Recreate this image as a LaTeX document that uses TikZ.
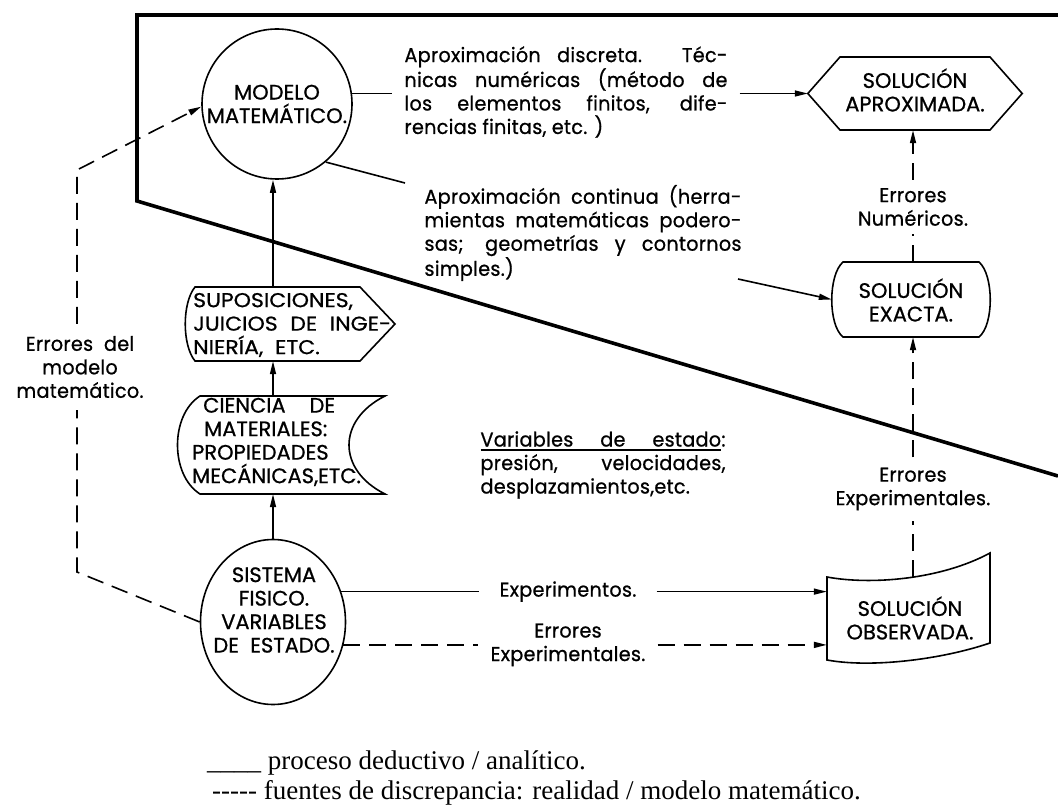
\documentclass[tikz,border=0pt]{standalone}
\usepackage{fontspec}
\setmainfont{Poppins}
\newfontfamily\cadcap{Poppins}[UprightFeatures={FakeBold=0.8}]
\newfontfamily\cadwide{Poppins}[UprightFeatures={FakeBold=0.8,FakeStretch=1.1}]
\newfontfamily\cadlow{Poppins}[UprightFeatures={FakeBold=0.8,LetterSpace=1.5,FakeStretch=0.96}]
\newfontfamily\legfont{Liberation Serif}
\usetikzlibrary{arrows.meta,shapes.geometric}
\newlength\colw
\begin{document}
\begin{tikzpicture}[x=1pt,y=-1pt,
  ln/.style={line width=1.6pt},
  frame/.style={line width=3.6pt, line join=miter},
  dsh/.style={line width=1.6pt, dash pattern=on 17pt off 9pt},
  arr/.style={-{Triangle[length=13pt,width=6pt]}},
  captxt/.style={font=\cadcap\fontsize{21}{23.5}\selectfont, inner sep=0pt, align=center},
  lowtxt/.style={font=\cadlow\fontsize{20}{23.5}\selectfont, inner sep=0pt},
  legtxt/.style={font=\legfont\fontsize{27}{30}\selectfont, anchor=base west, inner sep=0pt},
  boxnode/.style={inner sep=0pt, draw=none}]
\useasboundingbox (0,0) rectangle (1058,810);
\fill[white] (0,0) rectangle (1058,810);
% frame
\draw[frame] (1058,15) -- (137,15) -- (137,201) -- (1058,476);
% modelo
\node[circle, draw, ln, minimum size=150pt, inner sep=0pt] (modelo) at (277,104) {};
\node[captxt] (modelotxt) at (modelo) {MODELO\\MATEMÁTICO.};
% sistema
\node[ellipse, draw, ln, minimum width=145pt, minimum height=165pt, inner sep=0pt] (sis) at (273,622) {};
\node[captxt] (sistxt) at (274,610) {SISTEMA\\FISICO.\\VARIABLES\\DE\ \ ESTADO.};
% aproximada
\node[boxnode, minimum width=214pt, minimum height=73pt] (aprox) at (915,93.5) {};
\draw[ln] (aprox.west) -- (840,57) -- (990,57) -- (aprox.east) -- (990,130) -- (840,130) -- cycle;
\node[captxt] (aproxtxt) at (915,90) {SOLUCIÓN\\APROXIMADA.};
% exacta
\node[boxnode, minimum width=158pt, minimum height=75pt] (exacta) at (911,299.5) {};
\draw[ln] (843,262) -- (979,262) .. controls (994,275) and (994,325) .. (979,337) -- (843,337) .. controls (828,325) and (828,275) .. (843,262) -- cycle;
\node[captxt] (exactatxt) at (911,300) {SOLUCIÓN\\EXACTA.};
% observada
\node[boxnode, minimum width=163pt, minimum height=109pt] (obs) at (908.5,607.5) {};
\draw[ln] (827,577) .. controls (870,585) and (940,580) .. (990,553) -- (990,643) .. controls (940,660) and (870,668) .. (827,660) -- cycle;
\node[captxt] (obstxt) at (910,618) {SOLUCIÓN\\OBSERVADA.};
% suposiciones
\node[boxnode, minimum width=210pt, minimum height=74pt] (supo) at (290,324) {};
\draw[ln] (195,287) -- (360,287) -- (395,324) -- (360,361) -- (195,361) .. controls (182,345) and (182,303) .. (195,287) -- cycle;
\node[captxt, font=\cadwide\fontsize{20}{23.5}\selectfont, align=left, anchor=west] (supotxt) at (193,325) {SUPOSICIONES,\\\makebox[198pt][s]{JUICIOS DE INGE-}\\NIERÍA,\ \ ETC.};
% ciencia
\node[boxnode, minimum width=208pt, minimum height=98pt] (cien) at (281,445) {};
\draw[ln] (200,396) -- (385,396) .. controls (337,420) and (337,470) .. (385,494) -- (200,494) .. controls (170,475) and (170,415) .. (200,396) -- cycle;
\node[captxt, align=left, anchor=west] (cientxt) at (192,442) {\hspace*{11pt}\makebox[132pt][s]{CIENCIA DE}\\\hspace*{12pt}MATERIALES:\\PROPIEDADES\\MECÁNICAS,ETC.};
% vertical chain
\coordinate (col) at (273,0);
\draw[ln,arr] (col |- sis.north) -- (col |- cien.south);
\draw[ln,arr] (col |- cien.north) -- (col |- supo.south);
\draw[ln,arr] (col |- supo.north) -- (col |- modelo.south);
% paragraph 1
\node[lowtxt, align=left, inner xsep=12pt] (para1) at (566,92) {\makebox[323pt][s]{Aproximación discreta. Téc-}\\\makebox[323pt][s]{nicas numéricas (método de}\\\makebox[323pt][s]{los elementos finitos, dife-}\\rencias finitas, etc. )};
\draw[ln] (modelo.8) -- (modelo.8 -| para1.west);
\draw[ln,arr] (para1.east |- aprox.west) -- (aprox.west);
% paragraph 2
\node[lowtxt, align=left] (para2) at (583,233) {\makebox[317pt][s]{Aproximación continua (herra-}\\\makebox[317pt][s]{mientas matemáticas podero-}\\\makebox[317pt][s]{sas; geometrías y contornos}\\simples.)};
\coordinate (p2a) at (405,183);
\coordinate (p2b) at (738,279);
\draw[ln] (modelo.-50) -- (p2a);
\draw[ln,arr] (p2b) -- (exacta.west);
% variables
\node[lowtxt, align=left] (vars) at (603,465) {\settowidth\colw{:}\rlap{\rule[-4pt]{\dimexpr245pt-\colw\relax}{1.5pt}}\makebox[245pt][s]{Variables de estado:}\\\makebox[245pt][s]{presión, velocidades,}\\desplazamientos,etc.};
% errores del modelo
\node[lowtxt, align=center, inner ysep=12pt] (errmod) at (80,367) {Errores\ \ del\\modelo\\matemático.};
\coordinate (d1) at (77,572);
\coordinate (d2) at (77,170);
\draw[dsh] (sis.west) -- (d1) -- (d1 |- errmod.south);
\draw[dsh,arr] (d2 |- errmod.north) -- (d2) -- (modelo.182);
% errores numericos
\node[lowtxt, align=center, inner ysep=8pt] (numlbl) at (913,207) {Errores\\Numéricos.};
\draw[dsh] (exacta.north -| numlbl) -- (numlbl.south);
\draw[dsh,arr] (numlbl.north) -- (numlbl.north |- aprox.south);
% errores experimentales (right)
\node[lowtxt, align=center, inner ysep=10pt] (explbl) at (913,489) {Errores\\Experimentales.};
\coordinate (obstop) at (913,577);
\draw[dsh] (obstop) -- (explbl.south);
\draw[dsh,arr] (explbl.north) -- (explbl.north |- exacta.south);
% bottom connectors
\coordinate (xm) at (568,0);
\node[lowtxt, inner xsep=20pt] (expto) at (sis.24 -| xm) {Experimentos.};
\draw[ln] (sis.24) -- (expto.west);
\draw[ln,arr] (expto.east) -- (expto.east -| obs.west);
\node[lowtxt, align=center, inner xsep=12pt] (errexp) at (sis.-18 -| xm) {Errores\\Experimentales.};
\draw[dsh] (sis.-18) -- (sis.-18 -| errexp.west);
\draw[dsh,arr] (sis.-18 -| errexp.east) -- (sis.-18 -| obs.west);
% legend
\node[legtxt] (leg1) at (207,769) {\_\_\_\_\ proceso deductivo / analítico.};
\node[legtxt] (leg2) at (212,799) {-{}-{}-{}-{}- fuentes de discrepancia: realidad / modelo matemático.};
\end{tikzpicture}
\end{document}
